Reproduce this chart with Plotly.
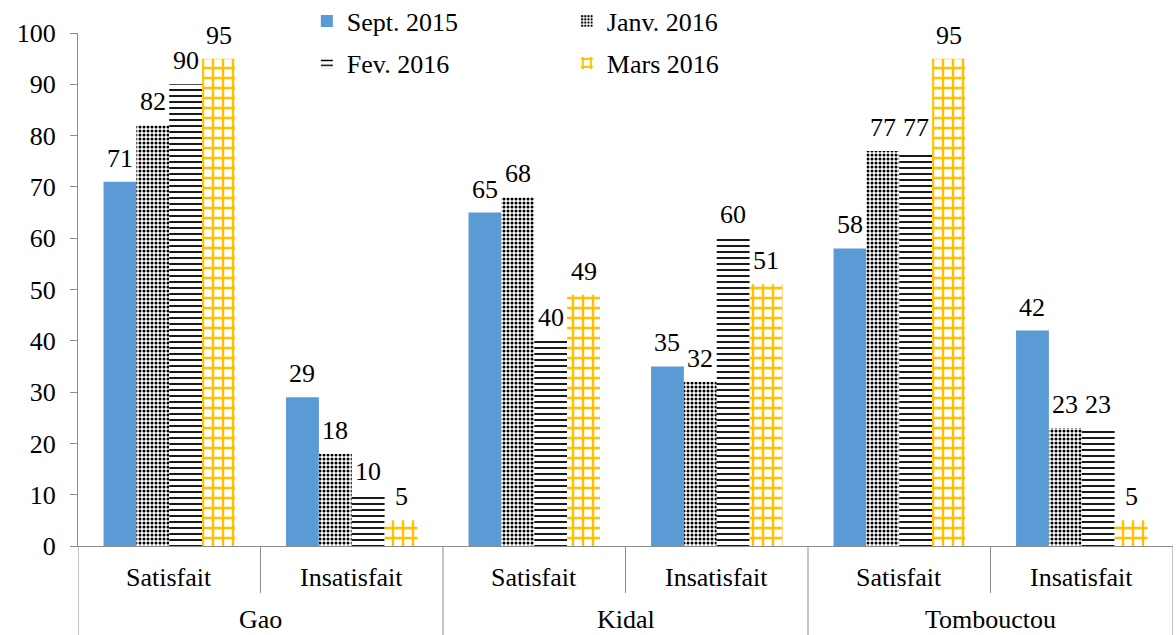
import plotly.graph_objects as go

regions = ["Gao", "Kidal", "Tombouctou"]
answers = ["Satisfait", "Insatisfait"]
categories = [f"{r} | {a}" for r in regions for a in answers]
inner_labels = [a for r in regions for a in answers]

series_names = ["Sept. 2015", "Janv. 2016", "Fev. 2016", "Mars 2016"]
sept_2015 = [71, 29, 65, 35, 58, 42]
janv_2016 = [82, 18, 68, 32, 77, 23]
fev_2016 = [90, 10, 40, 60, 77, 23]
mars_2016 = [95, 5, 49, 51, 95, 5]
all_series = [sept_2015, janv_2016, fev_2016, mars_2016]

FONT = "Liberation Serif"
FS = 26
AX = "#8c8c8c"
BARGAP = 0.28
H = 635
B = 89
PLOT_TOP = 33  # pixel row of the 100 gridline


def py(px):
    """paper y (margin t=0) for a pixel row"""
    return (H - B - px) / (H - B)


styles = [
    dict(color="#5B9BD5", pattern=dict(shape="")),
    dict(color="white", pattern=dict(shape=".", fgcolor="black", bgcolor="white", size=4,
                                     solidity=0.45, fillmode="overlay", fgopacity=1)),
    dict(color="white", pattern=dict(shape="-", fgcolor="black", bgcolor="white", size=6,
                                     solidity=0.3, fillmode="overlay", fgopacity=1)),
    dict(color="white", pattern=dict(shape="+", fgcolor="#FFC000", bgcolor="white", size=10,
                                     solidity=0.42, fillmode="overlay", fgopacity=1)),
]
legend_ids = ["legend", "legend", "legend2", "legend2"]

fig = go.Figure()
for name, vals, st, lg in zip(series_names, all_series, styles, legend_ids):
    fig.add_trace(go.Bar(
        x=categories, y=vals, name=name,
        marker=dict(color=st["color"], pattern=st["pattern"], line=dict(width=0)),
        legend=lg,
    ))

# value labels above each bar (grouped-bar centre offsets derived from bargap)
n = len(all_series)
bw = (1 - BARGAP) / n
for k, vals in enumerate(all_series):
    for i, v in enumerate(vals):
        fig.add_annotation(x=i + (k - (n - 1) / 2) * bw, y=v, xref="x", yref="y",
                           text=str(v), showarrow=False, yanchor="bottom", yshift=7,
                           font=dict(family=FONT, size=FS, color="black"))

# category labels (inner row) and region labels (outer row)
for i, lab in enumerate(inner_labels):
    fig.add_annotation(x=i, y=py(577), xref="x", yref="paper", text=lab, showarrow=False,
                       yanchor="middle", font=dict(family=FONT, size=FS, color="black"))
for j, reg in enumerate(regions):
    fig.add_annotation(x=2 * j + 0.5, y=py(619), xref="x", yref="paper", text=reg, showarrow=False,
                       yanchor="middle", font=dict(family=FONT, size=FS, color="black"))

# dividers
for j in range(len(regions) + 1):
    fig.add_shape(type="line", xref="x", yref="paper", x0=2 * j - 0.5, x1=2 * j - 0.5,
                  y0=0, y1=-0.2, line=dict(color=AX, width=1))
for j in range(len(regions)):
    fig.add_shape(type="line", xref="x", yref="paper", x0=2 * j + 0.5, x1=2 * j + 0.5,
                  y0=0, y1=py(593), line=dict(color=AX, width=1))

leg_common = dict(orientation="h", font=dict(family=FONT, size=FS, color="black"),
                  entrywidth=215, entrywidthmode="pixels", itemwidth=30,
                  bgcolor="rgba(0,0,0,0)", xanchor="left", yanchor="middle", tracegroupgap=0)

fig.update_layout(
    width=1176, height=H,
    margin=dict(l=78, r=3, t=0, b=B, autoexpand=False),
    paper_bgcolor="white", plot_bgcolor="white",
    barmode="group", bargap=BARGAP, bargroupgap=0,
    font=dict(family=FONT, size=FS, color="black"),
    legend=dict(x=0.209, y=py(21), **leg_common),
    legend2=dict(x=0.209, y=py(63), **leg_common),
    yaxis=dict(range=[0, 100], dtick=10, domain=[0, py(PLOT_TOP)],
               showgrid=False, zeroline=False,
               showline=True, linecolor=AX, linewidth=1,
               ticks="outside", ticklen=7, tickcolor=AX, ticklabelstandoff=9,
               tickfont=dict(family=FONT, size=FS, color="black")),
    xaxis=dict(type="category", range=[-0.5, 5.5], showgrid=False, showline=True,
               linecolor=AX, linewidth=1, ticks="", showticklabels=False),
)

fig.write_html("out.html", config={"displayModeBar": False},
               post_script="document.body.style.margin='0px';")
